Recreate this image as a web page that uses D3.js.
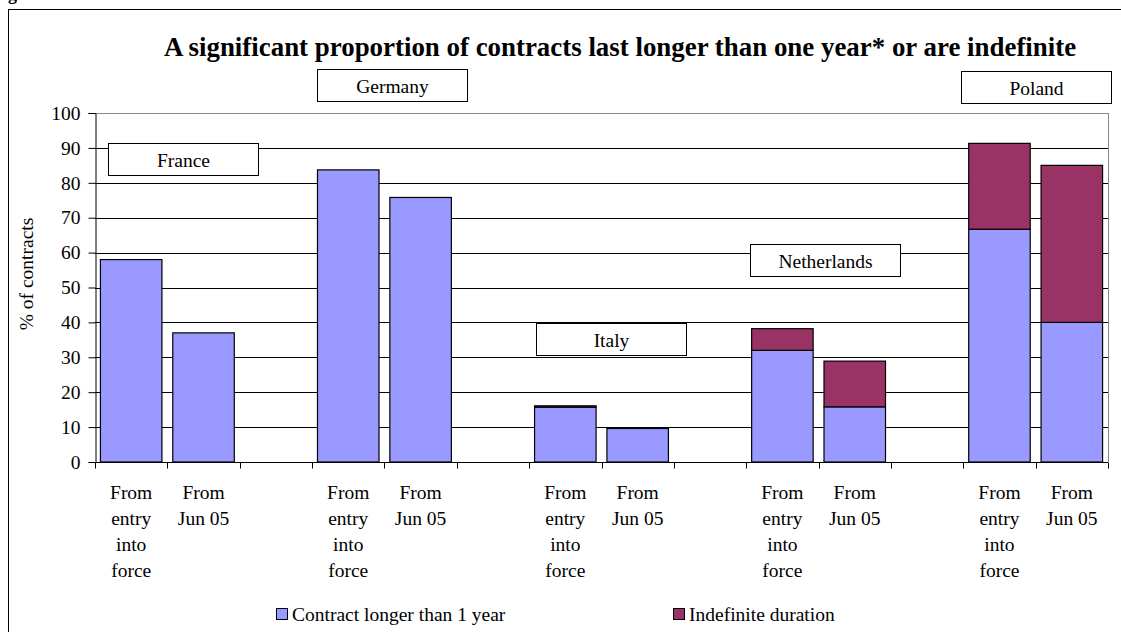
<!DOCTYPE html>
<html>
<head>
<meta charset="utf-8">
<script src="https://cdn.jsdelivr.net/npm/d3@7"></script>
<style>
  html, body { margin: 0; padding: 0; background: #fff; }
  svg { display: block; font-family: "Liberation Serif", "Times New Roman", serif; }
</style>
</head>
<body>
<div id="chart"></div>
<script>
// Share of contracts lasting longer than one year, or of indefinite duration (%)
const countries = ["France", "Germany", "Italy", "Netherlands", "Poland"];
const periods = ["From entry into force", "From Jun 05"];
const periodLines = [["From", "entry", "into", "force"], ["From", "Jun 05"]];
const longerThanOneYear = [[58, 37], [83.7, 75.8], [15.7, 9.6], [32, 15.8], [66.7, 40]];
const indefiniteDuration = [[0, 0], [0, 0], [0.4, 0], [6.2, 13.1], [24.6, 45]];
const seriesNames = ["Contract longer than 1 year", "Indefinite duration"];
const seriesColors = ["#9999ff", "#993366"];
const yTicks = [0, 10, 20, 30, 40, 50, 60, 70, 80, 90, 100];

const W = 1121, H = 632;
const margin = { left: 95, right: 13, top: 113, bottom: 170 };
const serif = "'Liberation Serif', 'Times New Roman', serif";

// one slot per bar, with an empty slot between countries
const slots = [];
countries.forEach((c, ci) => {
  periods.forEach((p, pi) => slots.push({ key: c + "|" + p, country: c, ci, pi }));
  if (ci < countries.length - 1) slots.push({ key: c + "|gap", country: c, ci, pi: -1 });
});

const svg = d3.select("#chart").append("svg")
  .attr("width", W).attr("height", H)
  .style("font-family", serif);

// outer frame
svg.append("rect")
  .attr("x", 8.5).attr("y", 9.5).attr("width", W + 20).attr("height", H + 20)
  .attr("fill", "none").attr("stroke", "#000").attr("stroke-width", 1);

svg.append("text")
  .attr("x", -8).attr("y", 0)
  .attr("font-size", 18).attr("font-weight", "bold")
  .text("Figure");

const x = d3.scaleBand()
  .domain(slots.map(d => d.key))
  .range([margin.left, W - margin.right])
  .padding(0);

const y = d3.scaleLinear()
  .domain([0, 100])
  .range([H - margin.bottom, margin.top]);

// title
svg.append("text")
  .attr("x", 620).attr("y", 56)
  .attr("text-anchor", "middle")
  .attr("font-size", 26.9).attr("font-weight", "bold")
  .text("A significant proportion of contracts last longer than one year* or are indefinite");

// gridlines
svg.append("g")
  .selectAll("line")
  .data(yTicks.filter(t => t > 0))
  .join("line")
  .attr("x1", margin.left).attr("x2", W - margin.right)
  .attr("y1", d => Math.round(y(d)) + 0.5).attr("y2", d => Math.round(y(d)) + 0.5)
  .attr("stroke", d => d === 100 ? "#888" : "#000")
  .attr("stroke-width", 1);

// plot-area right edge
svg.append("line")
  .attr("x1", W - margin.right + 0.5).attr("x2", W - margin.right + 0.5)
  .attr("y1", y(100)).attr("y2", y(0))
  .attr("stroke", "#888");

// stacked bars
const barSlots = slots.filter(d => d.pi >= 0);
const inset = 0.075;
const bars = [];
barSlots.forEach(s => {
  const a = longerThanOneYear[s.ci][s.pi];
  const b = indefiniteDuration[s.ci][s.pi];
  bars.push({ s, y0: 0, y1: a, color: seriesColors[0] });
  if (b > 0) bars.push({ s, y0: a, y1: a + b, color: seriesColors[1] });
});

svg.append("g")
  .selectAll("rect")
  .data(bars)
  .join("rect")
  .attr("x", d => x(d.s.key) + x.bandwidth() * inset)
  .attr("width", x.bandwidth() * (1 - 2 * inset))
  .attr("y", d => y(d.y1))
  .attr("height", d => y(d.y0) - y(d.y1))
  .attr("fill", d => d.color)
  .attr("stroke", "#000")
  .attr("stroke-width", 1.2);

// y axis
const yAxis = svg.append("g")
  .attr("transform", `translate(${margin.left + 0.5},0)`)
  .call(d3.axisLeft(y).tickValues(yTicks).tickSize(7).tickPadding(8));
yAxis.select(".domain").attr("stroke", "#000");
yAxis.selectAll(".tick line").attr("stroke", "#000");
yAxis.selectAll(".tick text")
  .attr("font-family", serif)
  .attr("font-size", 19.5).attr("fill", "#000");

// x axis: ticks at slot boundaries
const xBase = Math.round(y(0)) + 0.5;
svg.append("line")
  .attr("x1", margin.left).attr("x2", W - margin.right)
  .attr("y1", xBase).attr("y2", xBase)
  .attr("stroke", "#000");
const boundaries = slots.map(d => x(d.key)).concat([x(slots[slots.length - 1].key) + x.bandwidth()]);
svg.append("g")
  .selectAll("line")
  .data(boundaries)
  .join("line")
  .attr("x1", d => Math.round(d) + 0.5).attr("x2", d => Math.round(d) + 0.5)
  .attr("y1", xBase).attr("y2", xBase + 6)
  .attr("stroke", "#000");

// category labels
const labelG = svg.append("g")
  .attr("font-size", 19.5).attr("text-anchor", "middle");
barSlots.forEach(s => {
  const t = labelG.append("text")
    .attr("x", x(s.key) + x.bandwidth() / 2)
    .attr("y", 499);
  periodLines[s.pi].forEach((line, i) => {
    t.append("tspan")
      .attr("x", x(s.key) + x.bandwidth() / 2)
      .attr("dy", i === 0 ? 0 : 26)
      .text(line);
  });
});

// y axis title
svg.append("text")
  .attr("transform", "translate(33,274) rotate(-90)")
  .attr("text-anchor", "middle")
  .attr("font-size", 19.5)
  .text("% of contracts");

// country name boxes (left offset from the country's first slot, top in px)
const countryBoxes = [
  { dx: 13, top: 143 },
  { dx: 5, top: 69 },
  { dx: 7, top: 323 },
  { dx: 4, top: 244 },
  { dx: -2, top: 71 }
];
countries.forEach((c, ci) => {
  const first = slots.find(s => s.ci === ci && s.pi === 0);
  const bx = Math.round(x(first.key) + countryBoxes[ci].dx) + 0.5;
  const by = countryBoxes[ci].top + 0.5;
  const g = svg.append("g");
  g.append("rect")
    .attr("x", bx).attr("y", by).attr("width", 150).attr("height", 32)
    .attr("fill", "#fff").attr("stroke", "#000").attr("stroke-width", 1);
  g.append("text")
    .attr("x", bx + 75).attr("y", by + 23)
    .attr("text-anchor", "middle").attr("font-size", 19.5)
    .text(c);
});

// legend
const legendX = [276, 673];
seriesNames.forEach((name, i) => {
  svg.append("rect")
    .attr("x", legendX[i] + 0.5).attr("y", 608.5).attr("width", 11).attr("height", 11)
    .attr("fill", seriesColors[i]).attr("stroke", "#000").attr("stroke-width", 1);
  svg.append("text")
    .attr("x", legendX[i] + 16).attr("y", 621)
    .attr("font-size", 19.5)
    .text(name);
});
</script>
</body>
</html>
